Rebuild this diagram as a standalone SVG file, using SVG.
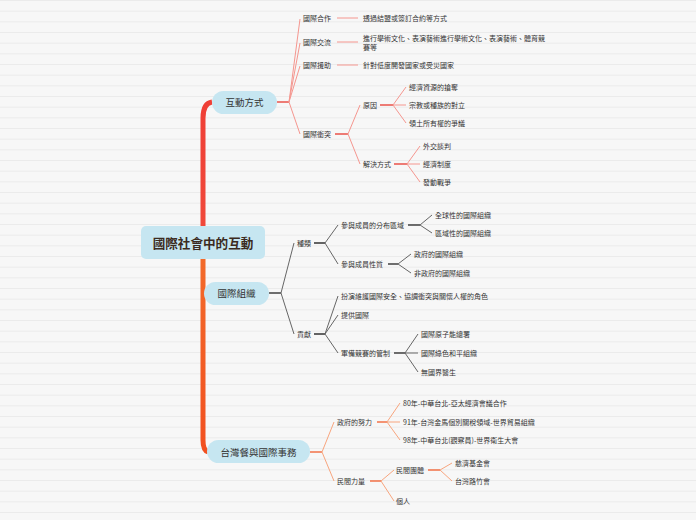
<svg xmlns="http://www.w3.org/2000/svg" width="696" height="520" viewBox="0 0 696 520">
<defs>
<pattern id="rules" x="0" y="0" width="696" height="10.6667" patternUnits="userSpaceOnUse">
<rect x="0" y="0" width="696" height="10.6667" fill="#f7f7f7"/>
<rect x="0" y="0" width="696" height="0.8" fill="#e9e9e9"/>
</pattern>
<linearGradient id="trunkUp" x1="0" y1="0" x2="0" y2="1">
<stop offset="0" stop-color="#ef3f36"/>
<stop offset="1" stop-color="#f0483a"/>
</linearGradient>
<linearGradient id="trunkDown" x1="0" y1="0" x2="0" y2="1">
<stop offset="0" stop-color="#f26a2a"/>
<stop offset="1" stop-color="#f25020"/>
</linearGradient>
</defs>
<style>
text{font-family:"Noto Sans CJK TC","Noto Sans CJK SC","Liberation Sans",sans-serif;dominant-baseline:central}
.s{font-size:7px;fill:#333}
.l1{font-size:9.5px;fill:#333;text-anchor:middle}
.c{font-size:12.6px;font-weight:bold;fill:#3b2a20;text-anchor:middle}
.nb{fill:#c6e6f1}
.rs{stroke:#e9463d;stroke-width:1.4;fill:none}
.rf{stroke:#f5968f;stroke-width:1;fill:none}
.gs{stroke:#333;stroke-width:1.4;fill:none}
.gf{stroke:#666;stroke-width:1;fill:none}
.os{stroke:#f2683a;stroke-width:1.4;fill:none}
.of{stroke:#f7a57e;stroke-width:1;fill:none}
</style>
<rect x="0" y="0" width="696" height="520" fill="url(#rules)"/>
<g id="connectors">
<path d="M212,102 C205,103 203,109 203,118 L203,226" stroke="url(#trunkUp)" stroke-width="5" fill="none"/>
<path d="M203,259 L203,440 C203,447 205,451 208,452" stroke="url(#trunkDown)" stroke-width="5" fill="none"/>
<path class="rs" d="M277,102 H289"/>
<path class="rf" d="M289,102 L300,19 M289,102 L300,43 M289,102 L300,66 M289,102 L300,134"/>
<path class="rf" d="M337,18 H358 M337,42 H358 M337,65 H358"/>
<path class="rs" d="M335,134 H348"/>
<path class="rf" d="M348,134 L360,105 M348,134 L360,164"/>
<path class="rs" d="M380,105 H393"/>
<path class="rf" d="M393,105 L406,87 M393,105 L406,105 M393,105 L406,123"/>
<path class="rs" d="M394,164 H407"/>
<path class="rf" d="M407,164 L420,146 M407,164 L420,164 M407,164 L420,182"/>
<path class="gs" d="M269,293 H281"/>
<path class="gf" d="M281,293 L294,243 M281,293 L294,334"/>
<path class="gs" d="M314,243 H325 M314,334 H325"/>
<path class="gf" d="M325,243 L338,225 M325,243 L338,264"/>
<path class="gs" d="M408,225 H420"/>
<path class="gf" d="M420,225 L432,215 M420,225 L432,233"/>
<path class="gs" d="M388,264 H398"/>
<path class="gf" d="M398,264 L411,254 M398,264 L411,273"/>
<path class="gf" d="M325,334 L338,296 M325,334 L338,315 M325,334 L338,353"/>
<path class="gs" d="M394,353 H405"/>
<path class="gf" d="M405,353 L418,334 M405,353 L418,353 M405,353 L418,372"/>
<path class="os" d="M310,452 H322"/>
<path class="of" d="M322,452 L334,422 M322,452 L334,481"/>
<path class="os" d="M377,422 H387"/>
<path class="of" d="M387,422 L400,403 M387,422 L400,422 M387,422 L400,440"/>
<path class="os" d="M370,481 H381"/>
<path class="of" d="M381,481 L394,470 M381,481 L394,501"/>
<path class="os" d="M428,470 H440"/>
<path class="of" d="M440,470 L452,463 M440,470 L452,481"/>
</g>
<g id="root"><rect class="nb" x="141" y="226" width="124" height="33" rx="5"/><text class="c" x="203" y="242.5">國際社會中的互動</text></g>
<g id="n-interaction"><rect class="nb" x="212" y="91" width="65" height="23" rx="11.5"/><text class="l1" x="244.5" y="102">互動方式</text></g>
<g id="n-org"><rect class="nb" x="204" y="282" width="65" height="23" rx="11.5"/><text class="l1" x="236.5" y="293">國際組織</text></g>
<g id="n-taiwan"><rect class="nb" x="207" y="440" width="103" height="23" rx="11.5"/><text class="l1" x="258.5" y="451.5">台灣餐與國際事務</text></g>
<g id="n-coop"><text class="s" x="303" y="18">國際合作</text></g>
<g id="n-coop-1"><text class="s" x="363" y="18">透過結盟或簽訂合約等方式</text></g>
<g id="n-exch"><text class="s" x="303" y="42">國際交流</text></g>
<g id="n-exch-1"><text class="s" x="363" y="38">進行學術文化、表演藝術進行學術文化、表演藝術、體育競</text><text class="s" x="363" y="47">賽等</text></g>
<g id="n-aid"><text class="s" x="303" y="65">國際援助</text></g>
<g id="n-aid-1"><text class="s" x="363" y="65">針對低度開發國家或受災國家</text></g>
<g id="n-conf"><text class="s" x="303" y="134">國際衝突</text></g>
<g id="n-cause"><text class="s" x="363" y="105">原因</text></g>
<g id="n-cause-1"><text class="s" x="409" y="87">經濟資源的搶奪</text></g>
<g id="n-cause-2"><text class="s" x="409" y="105">宗教或種族的對立</text></g>
<g id="n-cause-3"><text class="s" x="409" y="123">領土所有權的爭議</text></g>
<g id="n-solve"><text class="s" x="363" y="164">解決方式</text></g>
<g id="n-solve-1"><text class="s" x="423" y="146">外交談判</text></g>
<g id="n-solve-2"><text class="s" x="423" y="164">經濟制度</text></g>
<g id="n-solve-3"><text class="s" x="423" y="182">發動戰爭</text></g>
<g id="n-kind"><text class="s" x="297" y="243">種類</text></g>
<g id="n-kind-a"><text class="s" x="341" y="225">參與成員的分布區域</text></g>
<g id="n-kind-a1"><text class="s" x="435" y="215">全球性的國際組織</text></g>
<g id="n-kind-a2"><text class="s" x="435" y="233">區域性的國際組織</text></g>
<g id="n-kind-b"><text class="s" x="341" y="264">參與成員性質</text></g>
<g id="n-kind-b1"><text class="s" x="414" y="254">政府的國際組織</text></g>
<g id="n-kind-b2"><text class="s" x="414" y="273">非政府的國際組織</text></g>
<g id="n-contrib"><text class="s" x="297" y="334">貢獻</text></g>
<g id="n-contrib-1"><text class="s" x="341" y="296">扮演維護國際安全、協調衝突與關懷人權的角色</text></g>
<g id="n-contrib-2"><text class="s" x="341" y="315">提供國際</text></g>
<g id="n-contrib-3"><text class="s" x="341" y="353">軍備競賽的管制</text></g>
<g id="n-arms-1"><text class="s" x="421" y="334">國際原子能總署</text></g>
<g id="n-arms-2"><text class="s" x="421" y="353">國際綠色和平組織</text></g>
<g id="n-arms-3"><text class="s" x="421" y="372">無國界醫生</text></g>
<g id="n-gov"><text class="s" x="337" y="422">政府的努力</text></g>
<g id="n-gov-1"><text class="s" x="403" y="403">80年-中華台北-亞太經濟會議合作</text></g>
<g id="n-gov-2"><text class="s" x="403" y="422">91年-台灣金馬個別關稅領域-世界貿易組織</text></g>
<g id="n-gov-3"><text class="s" x="403" y="440">98年-中華台北(觀察員)-世界衛生大會</text></g>
<g id="n-civil"><text class="s" x="337" y="481">民間力量</text></g>
<g id="n-civil-org"><text class="s" x="396" y="470">民間團體</text></g>
<g id="n-civil-org-1"><text class="s" x="455" y="463">慈濟基金會</text></g>
<g id="n-civil-org-2"><text class="s" x="455" y="481">台灣路竹會</text></g>
<g id="n-person"><text class="s" x="396" y="501">個人</text></g>
</svg>
